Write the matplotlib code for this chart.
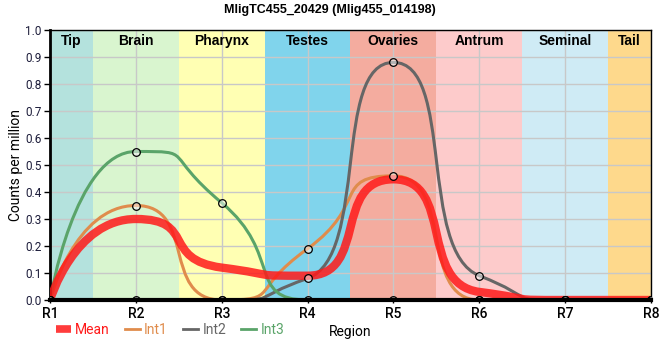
import numpy as np
import matplotlib.pyplot as plt
from matplotlib.path import Path
from matplotlib.patches import PathPatch

plt.rcParams['font.family'] = ['Roboto', 'DejaVu Sans']

regions = ['R1', 'R2', 'R3', 'R4', 'R5', 'R6', 'R7', 'R8']
int1 = [0, 0.35, 0, 0.19, 0.46, 0, 0, 0]
int2 = [0, 0, 0, 0.08, 0.88, 0.09, 0, 0]
int3 = [0, 0.55, 0.36, 0, 0, 0, 0, 0]
mean = [0, 0.30, 0.12, 0.09, 0.447, 0.03, 0, 0]

tissues = ['Tip', 'Brain', 'Pharynx', 'Testes', 'Ovaries', 'Antrum', 'Seminal', 'Tail']
tissue_bounds = [(0, 0.5), (0.5, 1.5), (1.5, 2.5), (2.5, 3.5), (3.5, 4.5), (4.5, 5.5), (5.5, 6.5), (6.5, 7)]
tissue_colors = ['#b4e2dd', '#d9f5cf', '#ffffb3', '#80d4ec', '#f4ac9f', '#fdcbcb', '#cfebf5', '#fed98c']

bold_font = ['Liberation Sans', 'DejaVu Sans']


def spline_path(y, smoothing=0.4):
    # bezier spline with control points kept inside neighbouring y values
    x = np.arange(len(y), dtype=float)
    y = np.asarray(y, float)
    n = len(y)
    left = [None] * n
    right = [None] * n
    den = smoothing + 1
    for i in range(1, n - 1):
        lx = (smoothing * x[i] + x[i - 1]) / den
        ly = (smoothing * y[i] + y[i - 1]) / den
        rx = (smoothing * x[i] + x[i + 1]) / den
        ry = (smoothing * y[i] + y[i + 1]) / den
        corr = (ry - ly) * (rx - x[i]) / (rx - lx) + y[i] - ry
        ly += corr
        ry += corr
        if ly > y[i - 1] and ly > y[i]:
            ly = max(y[i - 1], y[i])
            ry = 2 * y[i] - ly
        elif ly < y[i - 1] and ly < y[i]:
            ly = min(y[i - 1], y[i])
            ry = 2 * y[i] - ly
        if ry > y[i + 1] and ry > y[i]:
            ry = max(y[i + 1], y[i])
            ly = 2 * y[i] - ry
        elif ry < y[i + 1] and ry < y[i]:
            ry = min(y[i + 1], y[i])
            ly = 2 * y[i] - ry
        left[i] = (lx, ly)
        right[i] = (rx, ry)
    verts = [(x[0], y[0])]
    codes = [Path.MOVETO]
    for i in range(1, n):
        c1 = right[i - 1] if right[i - 1] else (x[i - 1], y[i - 1])
        c2 = left[i] if left[i] else (x[i], y[i])
        verts += [c1, c2, (x[i], y[i])]
        codes += [Path.CURVE4] * 3
    return Path(verts, codes)


fig = plt.figure(figsize=(6.6, 3.6), dpi=100)
ax = fig.add_axes([50 / 660, 60 / 360, 601 / 660, 270 / 360])

for name, (a, b), c in zip(tissues, tissue_bounds, tissue_colors):
    ax.axvspan(a, b, color=c, lw=0, zorder=0)
    ax.text((a + b) / 2, 0.985, name, ha='center', va='top', fontsize=10,
            fontweight='bold', family=bold_font, zorder=5)

ax.grid(True, color='#c8c8c8', lw=1, zorder=1)
ax.set_axisbelow(True)

ax.add_patch(PathPatch(spline_path(mean), fc='none', ec='#ff1a1a', lw=6,
                       alpha=0.85, zorder=3))
ax.plot([], [], color='#ff1a1a', lw=5.5, alpha=0.85, label='Mean',
        solid_capstyle='butt')
for vals, col, lab in [(int1, '#e08c4c', 'Int1'), (int2, '#666666', 'Int2'),
                       (int3, '#5aa469', 'Int3')]:
    ax.add_patch(PathPatch(spline_path(vals), fc='none', ec=col, lw=2.2, zorder=2))
    ax.plot([], [], color=col, lw=2, label=lab)
    ax.plot(range(len(vals)), vals, 'o', ms=5.5, mfc=(1, 1, 1, 0.5), mec='black',
            mew=0.9, zorder=4)

ax.set_xlim(0, 7)
ax.set_ylim(0, 1)
ax.set_xticks(range(len(regions)))
ax.set_xticklabels(regions, fontsize=10, fontweight='medium')
ax.set_yticks(np.arange(0, 1.01, 0.1))
ax.set_yticklabels(['%.1f' % v for v in np.arange(0, 1.01, 0.1)], fontsize=8.5,
                   color='#1c1c3a')
ax.tick_params(axis='y', length=4, width=1, pad=2)
ax.tick_params(axis='x', length=4, width=1, pad=3, direction='inout')
for s in ['top', 'right']:
    ax.spines[s].set_linewidth(1)
ax.spines['left'].set_linewidth(2)
ax.spines['bottom'].set_linewidth(3)
ax.spines['bottom'].set_zorder(6)

ax.set_ylabel('Counts per million', fontsize=10, labelpad=2)
ax.set_xlabel('Region', fontsize=10, labelpad=3)
ax.set_title('MligTC455_20429 (Mlig455_014198)', fontsize=9, fontweight='bold',
             family=bold_font, x=0.466, pad=12)

fig.legend(loc='center left', bbox_to_anchor=(50 / 660, 1 - 330 / 360), ncol=4,
           frameon=False, fontsize=10, handlelength=1.1, handletextpad=0.3,
           columnspacing=1.08, labelcolor='linecolor', borderaxespad=0)

fig.savefig('out.png', dpi=100)
